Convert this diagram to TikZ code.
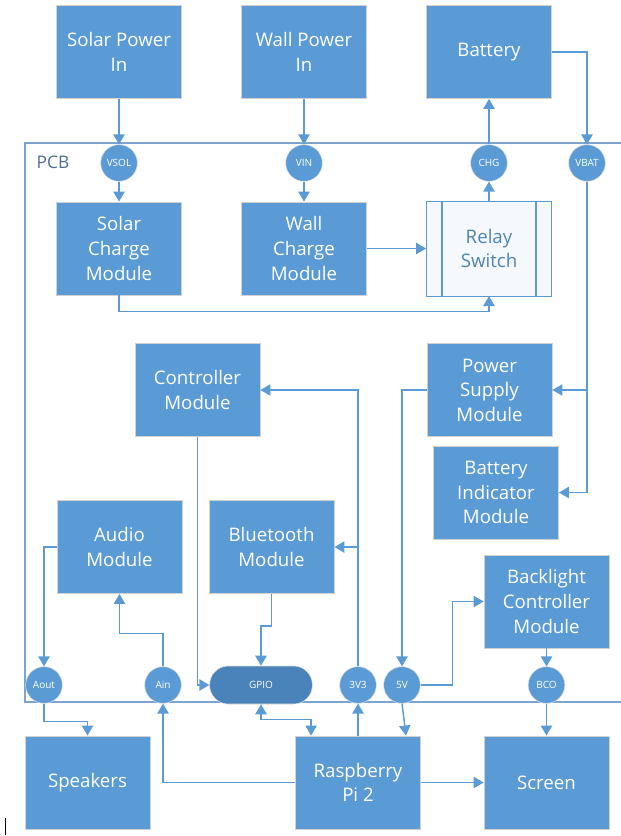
\documentclass[tikz,border=0pt]{standalone}
\usepackage{fontspec}
\setmainfont{Open Sans}
\usetikzlibrary{arrows.meta}
\definecolor{boxblue}{HTML}{5B9BD5}
\definecolor{gpioblue}{HTML}{4A82BA}
\definecolor{pcbline}{HTML}{7DA3CF}
\definecolor{pcbtext}{HTML}{4E6E96}
\definecolor{relayfill}{HTML}{F5F8FC}
\begin{document}
\begin{tikzpicture}[x=0.75pt, y=-0.75pt, >={Triangle[width=8.5pt,length=7.5pt]},
  link/.style = {draw=boxblue, line width=1.1pt},
  main/.style = {draw=black!18, fill=boxblue, text=white, align=center, minimum width=94pt, minimum height=70pt, inner sep=1pt, font=\fontsize{14}{18.4}\selectfont},
  port/.style = {circle, draw=black!12, fill=boxblue, text=white, minimum size=27.5pt, inner sep=0pt, font=\fontsize{7.5}{8}\selectfont}]
  \useasboundingbox (0,0) rectangle (621,836);
  \draw[pcbline, line width=1pt] (25,143) rectangle (640,702);
  \node[text=pcbtext, font=\fontsize{13}{15}\selectfont] (pcb) at (53,162) {PCB};

  \node[main] (solarin) at (119,52) {Solar Power\\In};
  \node[main] (wallin) at (304,52) {Wall Power\\In};
  \node[main] (battery) at (489,52) {Battery};
  \node[port] (vsol) at (119,163) {VSOL};
  \node[port] (vin) at (304,163) {VIN};
  \node[port] (chg) at (489,163) {CHG};
  \node[port] (vbat) at (587,163) {VBAT};
  \node[main] (solarchg) at (119,248.5) {Solar\\Charge\\Module};
  \node[main] (wallchg) at (304,248.5) {Wall\\Charge\\Module};
  \node[main, fill=relayfill, draw=boxblue, text=boxblue!85!black, minimum height=71pt] (relay) at (489,248.5) {Relay\\Switch};
  \draw[boxblue, line width=0.9pt] ([xshift=12pt]relay.north west) -- ([xshift=12pt]relay.south west);
  \draw[boxblue, line width=0.9pt] ([xshift=-12pt]relay.north east) -- ([xshift=-12pt]relay.south east);
  \node[main] (ctrl) at (197.5,390) {Controller\\Module};
  \node[main] (psu) at (489.5,390) {Power\\Supply\\Module};
  \node[main] (batind) at (496,492.5) {Battery\\Indicator\\Module};
  \node[main] (audio) at (119.5,547) {Audio\\Module};
  \node[main] (bt) at (271.5,547) {Bluetooth\\Module};
  \node[main] (backlight) at (546.5,601.5) {Backlight\\Controller\\Module};
  \node[port] (aout) at (44,685) {Aout};
  \node[port] (ain) at (163,685) {Ain};
  \node[port, shape=rectangle, rounded corners=14pt, fill=gpioblue, minimum width=77pt, minimum height=28.5pt] (gpio) at (261,685) {GPIO};
  \node[port] (v33) at (358,685) {3V3};
  \node[port] (v5) at (402,685) {5V};
  \node[port] (bco) at (546.5,685) {BCO};
  \node[main] (speakers) at (87.5,782.5) {Speakers};
  \node[main] (rpi) at (358,782.5) {Raspberry\\Pi 2};
  \node[main] (screen) at (546.5,782.5) {Screen};

  \draw[link,->] (solarin) to (vsol);
  \draw[link,->] (vsol) to (solarchg);
  \draw[link,->] (wallin) to (vin);
  \draw[link,->] (vin) to (wallchg);
  \draw[link,->] (wallchg) to (relay);
  \draw[link,->] (solarchg.south) -- ++(0,16) -| (relay.south);
  \draw[link,->] (relay) to (chg);
  \draw[link,->] (chg) to (battery);
  \draw[link,->] (battery.east) -| (vbat.north);
  \draw[link,->] (vbat.south) |- (batind.east);
  \draw[link,->] (vbat.south) |- (psu.east);
  \draw[link,->] (psu.west) -| (v5.north);
  \draw[link,->] (v5.east) -- ++(32,0) |- (backlight.west);
  \draw[link,->] (backlight) to (bco);
  \draw[link,->] (bco) to (screen);
  \draw[link,->] (v33.north) |- (ctrl.east);
  \draw[link,->] (v33.north) |- (bt.east);
  \draw[link,->] (ctrl.south) |- (gpio.west);
  \draw[link,->] (bt.south) -- ++(0,32) -| (gpio.north);
  \draw[link,->] (audio.west) -| (aout.north);
  \draw[link,->] (aout.south) -- ++(0,18) -| (speakers.north);
  \draw[link,->] (ain.north) -- ++(0,-33) -| (audio.south);
  \draw[link,->] (rpi.west) -| (ain.south);
  \draw[link,<->] (gpio.south) -- ++(0,15) -| ([xshift=12pt]rpi.north west);
  \draw[link,->] (rpi.north) to (v33.south);
  \draw[link,->] (v5.south) to ([xshift=36pt]rpi.north);
  \draw[link,->] (rpi) to (screen);
  \draw[line width=0.6pt] (5,818) -- (5,835);
\end{tikzpicture}
\end{document}
